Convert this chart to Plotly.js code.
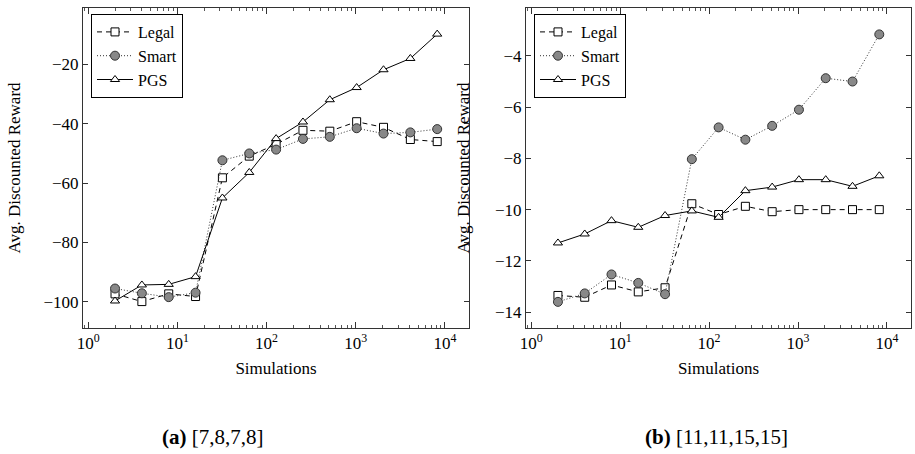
<!DOCTYPE html>
<html>
<head>
<meta charset="utf-8">
<script src="https://cdn.plot.ly/plotly-3.0.1.min.js"></script>
<style>html,body{margin:0;padding:0;background:#fff;}#chart{width:915px;height:454px;}</style>
</head>
<body>
<div id="chart"></div>
<script>
// Simulations (x values, shared)
const simulations = [2, 4, 8, 16, 32, 64, 128, 256, 512, 1024, 2048, 4096, 8192];

// (a) [7,8,7,8]
const legalA = [-97.3, -99.9, -97.3, -98.2, -58.2, -50.9, -46.9, -42.2, -42.5, -39.3, -41.2, -45.3, -46.0];
const smartA = [-95.5, -97.1, -98.4, -96.9, -52.3, -50.0, -48.7, -45.1, -44.4, -41.5, -43.3, -42.9, -41.8];
const pgsA   = [-99.7, -94.3, -94.1, -91.5, -65.0, -56.4, -45.0, -39.4, -31.9, -27.8, -21.8, -18.0, -9.8];

// (b) [11,11,15,15]
const legalB = [-13.35, -13.42, -12.94, -13.21, -13.05, -9.77, -10.19, -9.87, -10.08, -10.0, -10.0, -10.0, -10.0];
const smartB = [-13.6, -13.27, -12.53, -12.86, -13.3, -8.03, -6.79, -7.27, -6.73, -6.1, -4.87, -5.0, -3.16];
const pgsB   = [-11.3, -10.95, -10.43, -10.69, -10.23, -10.05, -10.3, -9.26, -9.12, -8.83, -8.83, -9.09, -8.68];

const seriesNames = ['Legal', 'Smart', 'PGS'];
const xTickVals = [1, 10, 100, 1000, 10000];
const xTickText = ['10<sup>0</sup>', '10<sup>1</sup>', '10<sup>2</sup>', '10<sup>3</sup>', '10<sup>4</sup>'];
const yTickValsA = [-100, -80, -60, -40, -20];
const yTickValsB = [-14, -12, -10, -8, -6, -4];
const captionA = '<b>(a)</b> [7,8,7,8]';
const captionB = '<b>(b)</b> [11,11,15,15]';
const xTitle = 'Simulations';
const yTitle = 'Avg. Discounted Reward';

const FONT = '"Liberation Serif", "Times New Roman", Times, serif';

const styles = [
  {line: {color: '#000', width: 1, dash: '5px,4px'}, marker: {symbol: 'square', size: 8, color: '#fff', line: {color: '#000', width: 1}}},
  {line: {color: '#333', width: 1, dash: '1px,2px'}, marker: {symbol: 'circle', size: 9, color: '#888', line: {color: '#333', width: 1}}},
  {line: {color: '#000', width: 1}, marker: {symbol: 'triangle-up', size: 8, color: '#fff', line: {color: '#000', width: 1}}}
];

function mk(ys, i, xa, ya, leg) {
  return {
    x: simulations, y: ys, name: seriesNames[i], type: 'scatter', mode: 'lines+markers',
    xaxis: xa, yaxis: ya, legend: leg,
    line: styles[i].line, marker: styles[i].marker
  };
}

const data = [
  mk(legalA, 0, 'x', 'y', 'legend'),
  mk(smartA, 1, 'x', 'y', 'legend'),
  mk(pgsA, 2, 'x', 'y', 'legend'),
  mk(legalB, 0, 'x2', 'y2', 'legend2'),
  mk(smartB, 1, 'x2', 'y2', 'legend2'),
  mk(pgsB, 2, 'x2', 'y2', 'legend2')
];

function xaxis(domain, anchor) {
  return {
    type: 'log', domain: domain, anchor: anchor, range: [-0.058, 4.27],
    tickvals: xTickVals, ticktext: xTickText,
    ticks: 'inside', ticklen: 6, tickcolor: '#333', tickwidth: 1,
    minor: {ticks: 'inside', ticklen: 3, tickcolor: '#555', dtick: 'D1'},
    showline: true, linecolor: '#333', linewidth: 1, mirror: 'allticks',
    showgrid: false, zeroline: false,
    tickfont: {family: FONT, size: 17, color: '#000'},
    title: {text: xTitle, font: {family: FONT, size: 17, color: '#000'}, standoff: 9},
    fixedrange: true
  };
}
function yaxis(domain, anchor, range, vals, standoff) {
  return {
    domain: domain, anchor: anchor, range: range,
    tickvals: vals,
    ticks: 'inside', ticklen: 5, tickcolor: '#333', tickwidth: 1,
    showline: true, linecolor: '#333', linewidth: 1, mirror: 'allticks',
    showgrid: false, zeroline: false,
    tickfont: {family: FONT, size: 17, color: '#000'},
    title: {text: yTitle, font: {family: FONT, size: 17, color: '#000'}, standoff: standoff},
    fixedrange: true
  };
}

const yDom = [(454 - 328) / 454, (454 - 8) / 454];
const legendBase = {
  xanchor: 'left', yanchor: 'top',
  bgcolor: '#fff', bordercolor: '#000', borderwidth: 1,
  font: {family: FONT, size: 16, color: '#000'},
  tracegroupgap: 0, itemwidth: 36
};

const layout = {
  width: 915, height: 454,
  margin: {l: 0, r: 0, t: 0, b: 0},
  paper_bgcolor: '#fff', plot_bgcolor: '#fff',
  font: {family: FONT, size: 17, color: '#000'},
  showlegend: true,
  xaxis: xaxis([83 / 915, 469 / 915], 'y'),
  yaxis: yaxis(yDom, 'x', [-108.8, -1.0], yTickValsA, 18),
  xaxis2: xaxis([526 / 915, 911 / 915], 'y2'),
  yaxis2: yaxis(yDom, 'x2', [-14.62, -2.13], yTickValsB, 21),
  legend: Object.assign({x: 91 / 915, y: (454 - 14) / 454}, legendBase),
  legend2: Object.assign({x: 534 / 915, y: (454 - 14) / 454}, legendBase),
  annotations: [
    {text: captionA, x: 213 / 915, y: (454 - 437) / 454, xref: 'paper', yref: 'paper', showarrow: false,
     xanchor: 'center', yanchor: 'middle', font: {family: FONT, size: 21, color: '#000'}},
    {text: captionB, x: 716 / 915, y: (454 - 437) / 454, xref: 'paper', yref: 'paper', showarrow: false,
     xanchor: 'center', yanchor: 'middle', font: {family: FONT, size: 21, color: '#000'}}
  ]
};

Plotly.newPlot('chart', data, layout, {displayModeBar: false, staticPlot: true});
</script>
</body>
</html>
